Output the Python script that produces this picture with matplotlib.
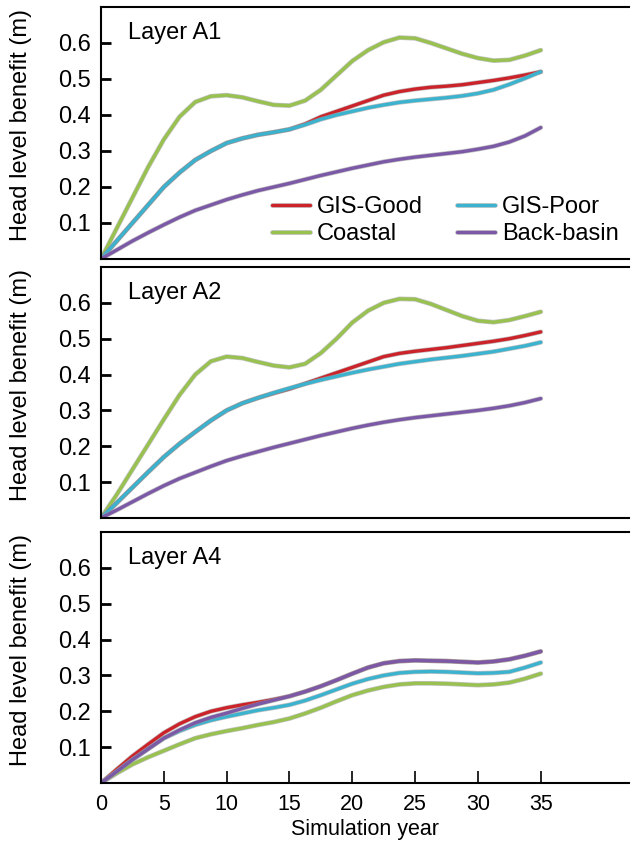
import matplotlib.pyplot as plt
import matplotlib.patheffects as pe
import numpy as np

plt.rcParams['font.family'] = ['Liberation Sans', 'DejaVu Sans']

years = [0, 1.25, 2.5, 3.75, 5, 6.25, 7.5, 8.75, 10, 11.25, 12.5, 13.75, 15, 16.25, 17.5,
         18.75, 20, 21.25, 22.5, 23.75, 25, 26.25, 27.5, 28.75, 30, 31.25, 32.5, 33.75, 35]

# Layer A1
a1_good = [0, .05, .10, .15, .20, .24, .275, .30, .322, .335, .345, .352, .36, .375, .395,
           .41, .425, .44, .455, .465, .472, .477, .48, .484, .49, .496, .503, .511, .52]
a1_poor = [0, .05, .10, .15, .20, .24, .275, .30, .322, .335, .345, .352, .36, .373, .388,
           .40, .41, .42, .428, .435, .44, .444, .448, .453, .46, .47, .485, .502, .52]
a1_coastal = [0, .085, .17, .255, .332, .395, .436, .452, .455, .449, .438, .428, .426, .44, .47,
              .51, .55, .58, .602, .615, .613, .60, .585, .57, .558, .551, .553, .565, .58]
a1_back = [0, .025, .05, .073, .095, .116, .135, .15, .165, .178, .19, .20, .21, .221, .232,
           .242, .252, .261, .27, .277, .283, .288, .293, .298, .305, .313, .325, .342, .365]

# Layer A2
a2_good = [0, .042, .085, .128, .17, .207, .24, .272, .30, .32, .335, .348, .36, .375, .39,
           .405, .42, .435, .45, .459, .465, .47, .475, .481, .487, .493, .50, .509, .519]
a2_poor = [0, .042, .085, .128, .17, .207, .24, .272, .30, .32, .335, .349, .362, .374, .385,
           .395, .405, .414, .422, .43, .436, .442, .447, .452, .458, .464, .472, .48, .49]
a2_coastal = [0, .065, .135, .205, .275, .343, .400, .437, .45, .446, .435, .425, .42, .43, .46,
              .50, .545, .578, .60, .611, .61, .597, .58, .563, .55, .546, .552, .563, .575]
a2_back = [0, .022, .045, .068, .09, .11, .127, .144, .16, .173, .185, .197, .208, .219, .23,
           .24, .25, .259, .267, .274, .28, .285, .29, .295, .30, .306, .313, .322, .333]

# Layer A4
a4_good = [0, .038, .075, .108, .14, .165, .185, .20, .21, .218, .225, .233, .242, .255, .27,
           .287, .305, .322, .334, .34, .342, .341, .34, .338, .336, .339, .345, .355, .367]
a4_poor = [0, .032, .065, .095, .125, .145, .162, .175, .185, .194, .203, .21, .218, .23, .245,
           .261, .277, .29, .30, .307, .31, .311, .31, .308, .306, .307, .31, .322, .336]
a4_coastal = [0, .027, .052, .072, .09, .108, .125, .136, .145, .153, .162, .17, .18, .194, .21,
              .228, .245, .258, .268, .275, .278, .278, .277, .275, .273, .275, .28, .291, .305]
a4_back = [0, .032, .065, .095, .125, .148, .168, .183, .195, .208, .22, .231, .242, .255, .27,
           .287, .305, .322, .334, .34, .342, .341, .34, .338, .336, .339, .345, .355, .367]

layers = ['Layer A1', 'Layer A2', 'Layer A4']
colors = {'GIS-Good': '#cc2229', 'GIS-Poor': '#3bb3cf', 'Coastal': '#98c150', 'Back-basin': '#7b59a6'}

data = [
    {'GIS-Good': a1_good, 'GIS-Poor': a1_poor, 'Coastal': a1_coastal, 'Back-basin': a1_back},
    {'GIS-Good': a2_good, 'GIS-Poor': a2_poor, 'Coastal': a2_coastal, 'Back-basin': a2_back},
    {'GIS-Good': a4_good, 'GIS-Poor': a4_poor, 'Coastal': a4_coastal, 'Back-basin': a4_back},
]
draw_order = [
    ['Coastal', 'GIS-Good', 'GIS-Poor', 'Back-basin'],
    ['Coastal', 'GIS-Good', 'GIS-Poor', 'Back-basin'],
    ['GIS-Good', 'Coastal', 'GIS-Poor', 'Back-basin'],
]

fig = plt.figure(figsize=(6.32, 8.5), dpi=100)
boxes = [(0.1598, 0.6953, 0.835, 0.2965),
         (0.1598, 0.3906, 0.835, 0.2953),
         (0.1598, 0.0788, 0.835, 0.2953)]

halo = [pe.Stroke(linewidth=3.4, foreground='#9a9a9a', alpha=0.6), pe.Normal()]
fs = 17
fs_x = 15.5

for i, (box, layer) in enumerate(zip(boxes, layers)):
    ax = fig.add_axes(box)
    handles = {}
    for name in draw_order[i]:
        ln, = ax.plot(years, data[i][name], color=colors[name], lw=2.4,
                      solid_capstyle='round', path_effects=halo, label=name)
        handles[name] = ln
    ax.set_xlim(0, 42)
    ax.set_ylim(0, 0.7)
    ax.set_yticks([0.1, 0.2, 0.3, 0.4, 0.5, 0.6])
    ax.set_yticklabels(['0.1', '0.2', '0.3', '0.4', '0.5', '0.6'])
    ax.tick_params(axis='y', direction='in', length=7, width=2, labelsize=fs, pad=7)
    ax.set_ylabel('Head level benefit (m)', fontsize=fs)
    ax.yaxis.set_label_coords(-0.13, 0.53)
    ax.spines['right'].set_visible(False)
    for s in ['left', 'top', 'bottom']:
        ax.spines[s].set_linewidth(1.5)
    ax.text(0.051, 0.895, layer, transform=ax.transAxes, fontsize=fs,
            ha='left', va='center')
    if i < 2:
        ax.set_xticks([])
    else:
        ax.set_xticks([0, 5, 10, 15, 20, 25, 30, 35])
        ax.tick_params(axis='x', direction='in', length=9, width=1.2, labelsize=fs_x, pad=8)
        ax.set_xlabel('Simulation year', fontsize=fs_x, labelpad=3)
    if i == 0:
        order = ['GIS-Good', 'Coastal', 'GIS-Poor', 'Back-basin']
        ax.legend([handles[n] for n in order], order, loc='upper left',
                  bbox_to_anchor=(0.324, 0.25), ncol=2, frameon=False,
                  fontsize=fs, handlelength=1.6, handletextpad=0.3,
                  columnspacing=1.45, labelspacing=0.22, borderaxespad=0, borderpad=0)

fig.savefig('out.png', dpi=100)
